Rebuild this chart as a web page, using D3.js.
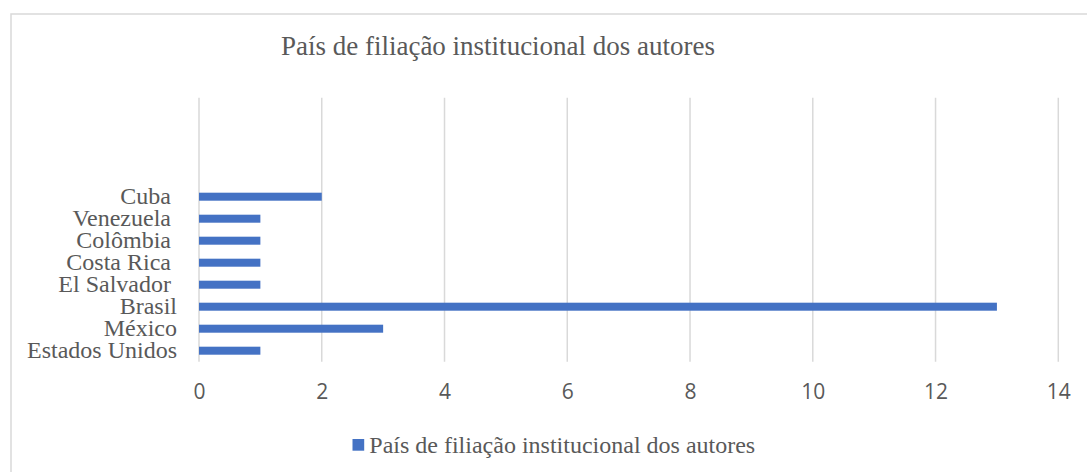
<!DOCTYPE html>
<html>
<head>
<meta charset="utf-8">
<script src="https://cdn.jsdelivr.net/npm/d3@7"></script>
<style>
  body { margin: 0; background: #fff; }
  text { white-space: pre; }
</style>
</head>
<body>
<div id="chart"></div>
<script>
// data (first category is drawn at the bottom, like Excel)
var categories = ["Estados Unidos", "México", "Brasil", "El Salvador ", "Costa Rica ", "Colômbia ", "Venezuela ", "Cuba "];
var values = [1, 3, 13, 1, 1, 1, 1, 2];
var blankRows = 4; // empty rows left in the sheet above Cuba
var xTicks = [0, 2, 4, 6, 8, 10, 12, 14];
var title = "País de filiação institucional dos autores";
var seriesName = "País de filiação institucional dos autores";

function init() {
    var w = 1087;
    var h = 472;
    var plotLeft = 199, plotRight = 1058.3, plotTop = 97.7, plotBottom = 361.7;
    var barColor = "#4472c4";
    var textColor = "#595959";
    var gridColor = "#d9d9d9";
    var serif = "'Liberation Serif', 'Times New Roman', serif";

    var svg = d3.select("#chart")
        .append("svg")
        .attr("width", w)
        .attr("height", h);

    // chart border
    svg.append("rect")
        .attr("x", 11)
        .attr("y", 14)
        .attr("width", w + 20)
        .attr("height", h + 20)
        .attr("fill", "none")
        .attr("stroke", gridColor)
        .attr("stroke-width", 1.5);

    var xScale = d3.scaleLinear()
        .domain([0, 14])
        .range([plotLeft, plotRight]);

    var yScale = d3.scaleBand()
        .domain(d3.range(categories.length + blankRows))
        .range([plotBottom, plotTop]);

    // gridlines
    svg.selectAll("line.grid")
        .data(xTicks)
        .enter()
        .append("line")
        .attr("class", "grid")
        .attr("x1", function(d) { return xScale(d); })
        .attr("x2", function(d) { return xScale(d); })
        .attr("y1", plotTop)
        .attr("y2", plotBottom)
        .attr("stroke", gridColor)
        .attr("stroke-width", 1.5);

    // bars
    var barH = yScale.bandwidth() * 0.364;
    svg.selectAll("rect.bar")
        .data(values)
        .enter()
        .append("rect")
        .attr("class", "bar")
        .attr("x", xScale(0))
        .attr("y", function(d, i) {
            return yScale(i) + yScale.bandwidth() / 2 - barH / 2;
        })
        .attr("width", function(d) { return xScale(d) - xScale(0); })
        .attr("height", barH)
        .attr("fill", barColor);

    // category labels
    svg.selectAll("text.cat")
        .data(categories)
        .enter()
        .append("text")
        .attr("class", "cat")
        .text(function(d) { return d; })
        .attr("x", 177)
        .attr("y", function(d, i) { return yScale(i) + yScale.bandwidth() / 2 + 7; })
        .attr("text-anchor", "end")
        .attr("font-family", serif)
        .attr("font-size", 24)
        .attr("fill", textColor);

    // x axis
    var xAxis = d3.axisBottom(xScale)
        .tickValues(xTicks)
        .tickSize(0)
        .tickPadding(0);

    var gx = svg.append("g")
        .attr("transform", "translate(0,384)")
        .call(xAxis);
    gx.select(".domain").remove();
    gx.selectAll("text")
        .attr("dy", "0.71em")
        .attr("font-family", "'Open Sans', 'Liberation Sans', sans-serif")
        .attr("font-size", 21)
        .attr("fill", textColor);

    // title
    svg.append("text")
        .text(title)
        .attr("x", 498)
        .attr("y", 55)
        .attr("text-anchor", "middle")
        .attr("font-family", serif)
        .attr("font-size", 27)
        .attr("fill", textColor);

    // legend
    svg.append("rect")
        .attr("x", 352.5)
        .attr("y", 439)
        .attr("width", 11.7)
        .attr("height", 11.7)
        .attr("fill", barColor);

    svg.append("text")
        .text(seriesName)
        .attr("x", 369.3)
        .attr("y", 453.3)
        .attr("font-family", serif)
        .attr("font-size", 24)
        .attr("fill", textColor);
}
window.onload = init;
</script>
</body>
</html>
